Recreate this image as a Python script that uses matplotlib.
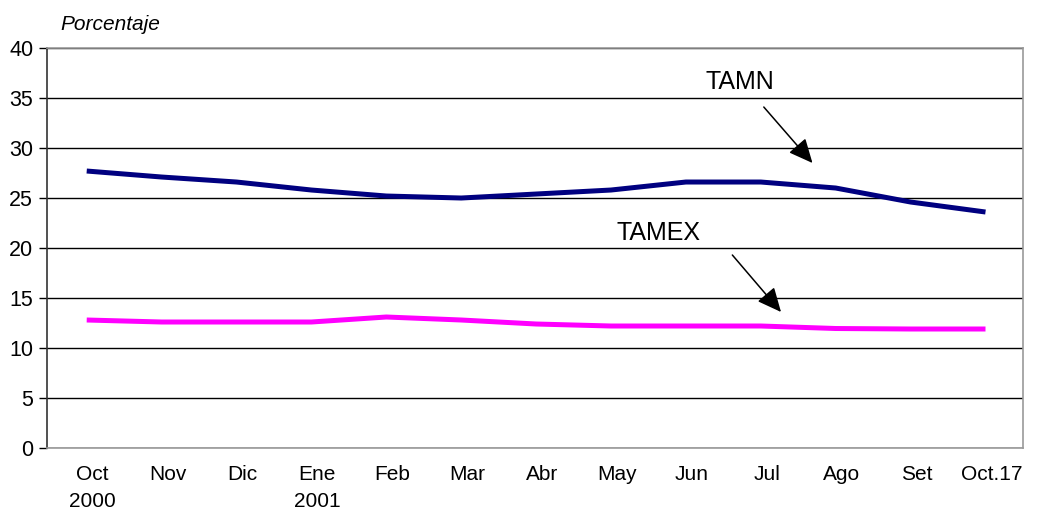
import matplotlib
matplotlib.use('Agg')
import matplotlib.pyplot as plt
from matplotlib.transforms import ScaledTranslation

months = ['Oct\n2000', 'Nov', 'Dic', 'Ene\n2001', 'Feb', 'Mar', 'Abr',
          'May', 'Jun', 'Jul', 'Ago', 'Set', 'Oct.17']
tamn = [27.7, 27.1, 26.6, 25.8, 25.2, 25.0, 25.4, 25.8, 26.6, 26.6, 26.0, 24.6, 23.6]
tamex = [12.8, 12.6, 12.6, 12.6, 13.1, 12.8, 12.4, 12.2, 12.2, 12.2, 11.95, 11.9, 11.9]

plt.rcParams['font.family'] = ['Liberation Sans', 'DejaVu Sans']

fig = plt.figure(figsize=(10.38, 5.11), dpi=100)
ax = fig.add_axes([0.0453, 0.1233, 0.9402, 0.7827])

x = list(range(len(months)))
ax.plot(x, tamn, color='#000080', linewidth=3.6, solid_capstyle='butt', zorder=3)
ax.plot(x, tamex, color='#FF00FF', linewidth=3.6, solid_capstyle='butt', zorder=3)

ax.set_xlim(-0.53, 12.5)
ax.set_ylim(0, 40)
ax.set_yticks(range(0, 41, 5))
ax.set_xticks(x)
ax.set_xticklabels(months, linespacing=1.55, va='top')
ax.tick_params(axis='x', length=0, pad=12, labelsize=15)
ax.tick_params(axis='y', length=6, width=1, labelsize=15.5, pad=4)
# labels sit a little right of the points
for lab in ax.get_xticklabels():
    lab.set_transform(lab.get_transform() + ScaledTranslation(0.06, 0, fig.dpi_scale_trans))
ax.grid(axis='y', color='black', linewidth=1)
ax.set_axisbelow(True)

for side in ['top', 'right', 'bottom']:
    ax.spines[side].set_color('#999999')
ax.spines['left'].set_color('#333333')
for s in ax.spines.values():
    s.set_linewidth(1.2)

# labels and arrows
ax.text(8.72, 35.9, 'TAMN', ha='center', va='baseline', fontsize=18)
ax.text(7.64, 20.8, 'TAMEX', ha='center', va='baseline', fontsize=18)
arrow = dict(arrowstyle='-|>,head_length=0.74,head_width=0.34', color='black',
             lw=1.1, mutation_scale=20, shrinkA=0, shrinkB=0)
ax.annotate('', xy=(9.69, 28.5), xytext=(9.04, 34.1), arrowprops=arrow)
ax.annotate('', xy=(9.27, 13.6), xytext=(8.62, 19.3), arrowprops=arrow)

fig.text(0.058, 0.941, 'Porcentaje', fontsize=15, style='italic', va='baseline')

fig.savefig('out.png', dpi=100)
